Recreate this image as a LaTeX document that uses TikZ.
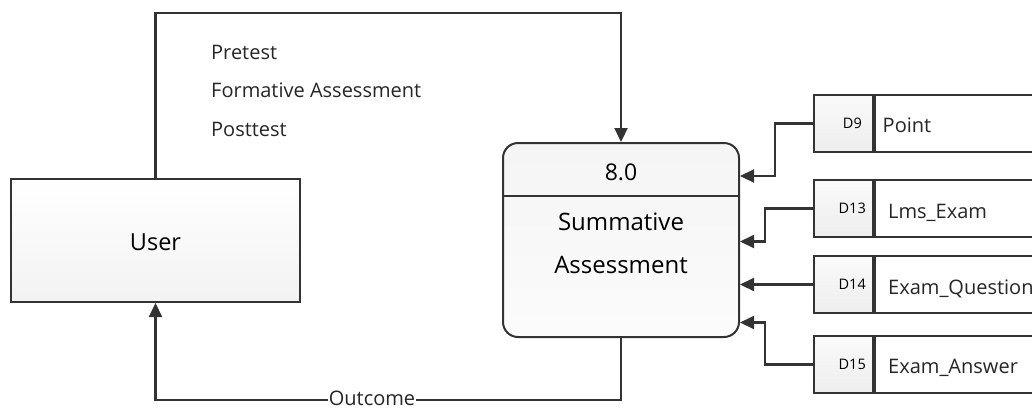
\documentclass[tikz,border=0pt]{standalone}
\usepackage{fontspec}
\setmainfont{Open Sans}
\usetikzlibrary{arrows.meta}
\definecolor{ln}{HTML}{333333}
\tikzset{
  flow/.style={draw=ln, line width=2.2pt, -{Triangle[length=14pt,width=13pt]}},
  plain/.style={draw=ln, line width=2pt},
  lbl/.style={font=\fontsize{20}{24}\selectfont, text=black!85, inner sep=0pt},
  codebox/.style={draw=ln, line width=2pt, top color=gray!4, bottom color=gray!14, minimum width=59pt, minimum height=57pt, inner sep=0pt},
  namebox/.style={draw=ln, line width=2pt, fill=white, minimum width=180pt, minimum height=57pt, inner sep=0pt},
  code/.style={font=\fontsize{14.5}{16}\selectfont, inner sep=0pt, anchor=base east},
  sname/.style={font=\fontsize{20}{24}\selectfont, text=black!85, inner sep=0pt, anchor=base west}
}
\begin{document}
\begin{tikzpicture}[x=1pt,y=-1pt]
\useasboundingbox (0,0) rectangle (1032,408);
\clip (0,0) rectangle (1032,408);
% User
\node[draw=ln, line width=2pt, top color=white, bottom color=gray!10, minimum width=289pt, minimum height=123pt, inner sep=0pt] (user) at (155.5,240.5) {};
\node[font=\fontsize{23.5}{26}\selectfont, anchor=base, inner sep=0pt] (usert) at (155.5,250.5) {User};
% Process
\node[draw=ln, line width=2pt, rounded corners=15pt, top color=gray!8, bottom color=gray!3, minimum width=236pt, minimum height=194pt, inner sep=0pt] (proc) at (621,240) {};
\coordinate (divl) at (503,196);
\coordinate (divr) at (739,196);
\draw[plain] (divl) -- (divr);
\node[font=\fontsize{23}{26}\selectfont, anchor=base, inner sep=0pt] (pnum) at (621,180) {8.0};
\node[font=\fontsize{24}{28}\selectfont, anchor=base, inner sep=0pt] (pn1) at (621,230) {Summative};
\node[font=\fontsize{24}{28}\selectfont, anchor=base, inner sep=0pt] (pn2) at (621,273.5) {Assessment};
% Data stores
\node[codebox] (d9) at (843.5,123.5) {};
\node[namebox, anchor=west] (d9n) at (d9.east) {};
\node[code] (d9c) at (862,128.5) {D9};
\node[sname] (d9t) at (882.5,132.5) {Point};

\node[codebox] (d13) at (843.5,208.5) {};
\node[namebox, anchor=west] (d13n) at (d13.east) {};
\node[code] (d13c) at (866,213.5) {D13};
\node[sname] (d13t) at (888,218) {Lms\_Exam};

\node[codebox] (d14) at (843.5,284.5) {};
\node[namebox, anchor=west] (d14n) at (d14.east) {};
\node[code] (d14c) at (866,289.5) {D14};
\node[sname] (d14t) at (888,294) {Exam\_Question};

\node[codebox] (d15) at (843.5,364.5) {};
\node[namebox, anchor=west] (d15n) at (d15.east) {};
\node[code] (d15c) at (866,369.5) {D15};
\node[sname] (d15t) at (888,373.5) {Exam\_Answer};
% flows from stores
\draw[flow] (d9.west) -- ++(-38,0) |- (proc.east |- 0,176);
\draw[flow] (d13.west) -- ++(-48,0) |- (proc.east |- 0,241.5);
\draw[flow] (d14.west) -- (proc.east |- d14.west);
\draw[flow] (d15.west) -- ++(-48,0) |- (proc.east |- 0,322.5);
% user -> process
\draw[flow] (user.north) -- ++(0,-165) -| (proc.north);
\node[lbl, anchor=base west] (l1) at (211,59.5) {Pretest};
\node[lbl, anchor=base west] (l2) at (211,97.5) {Formative Assessment};
\node[lbl, anchor=base west] (l3) at (211,136) {Posttest};
% process -> user
\draw[flow] (proc.south) -- ++(0,62) -| (user.south);
\node[font=\fontsize{20}{24}\selectfont, text=black!85, fill=white, inner xsep=1pt, inner ysep=0pt, anchor=base] (outc) at (372,405) {Outcome};
\end{tikzpicture}
\end{document}
